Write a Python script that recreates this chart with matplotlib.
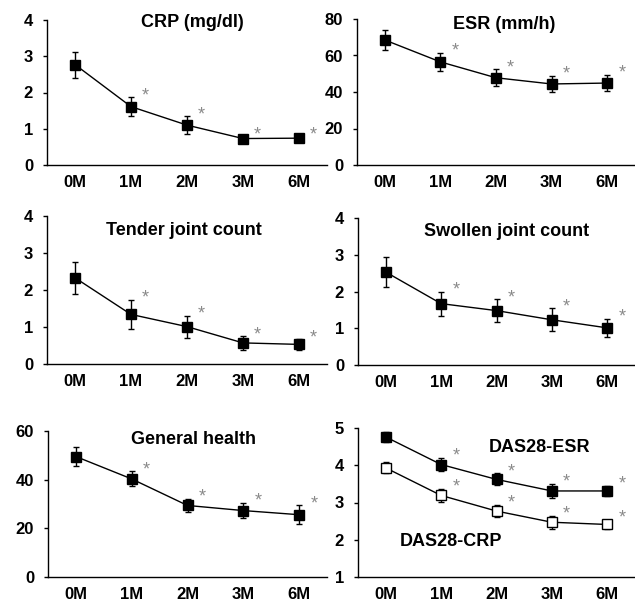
import matplotlib.pyplot as plt
import numpy as np

plt.rcParams['font.family'] = ['Liberation Sans', 'DejaVu Sans']

months = ['0M', '1M', '2M', '3M', '6M']

crp_mean = [2.77, 1.61, 1.10, 0.73, 0.74]
crp_err = [0.36, 0.26, 0.24, 0.05, 0.05]

esr_mean = [68.5, 56.5, 47.8, 44.4, 44.9]
esr_err = [5.7, 5.0, 4.7, 4.5, 4.5]

tender_mean = [2.33, 1.34, 1.01, 0.57, 0.53]
tender_err = [0.44, 0.39, 0.30, 0.18, 0.14]

swollen_mean = [2.53, 1.67, 1.48, 1.23, 1.01]
swollen_err = [0.40, 0.33, 0.31, 0.31, 0.25]

health_mean = [49.5, 40.3, 29.4, 27.3, 25.6]
health_err = [3.8, 3.1, 2.7, 3.2, 3.8]

das_esr_mean = [4.76, 4.02, 3.62, 3.31, 3.31]
das_esr_err = [0.14, 0.18, 0.16, 0.20, 0.14]

das_crp_mean = [3.93, 3.19, 2.77, 2.47, 2.41]
das_crp_err = [0.15, 0.18, 0.17, 0.18, 0.13]

# significance flags (all follow-up visits vs baseline)
signif = [False, True, True, True, True]

fig = plt.figure(figsize=(6.35, 6.01), dpi=100)

W, H = 635.0, 601.0


def make_ax(left_px, right_px, top_px, bottom_px):
    return fig.add_axes([left_px / W, 1 - bottom_px / H,
                         (right_px - left_px) / W, (bottom_px - top_px) / H])


def draw_series(ax, mean, err, filled=True):
    x = np.arange(len(mean))
    ax.errorbar(x, mean, yerr=err, fmt='s', color='black', ecolor='black',
                elinewidth=1.0, capsize=2.5, capthick=1.0,
                markersize=7, markerfacecolor='black' if filled else 'white',
                markeredgecolor='black', markeredgewidth=1.0,
                linestyle='-', linewidth=1.0, zorder=3)
    for xi, m, e, s in zip(x, mean, err, signif):
        if s:
            ax.annotate('*', (xi, m + e), xytext=(8, -5),
                        textcoords='offset points', ha='left', va='bottom',
                        fontsize=13, color='#8a8a8a')


def style(ax, ylim, yticks):
    ax.set_xlim(-0.5, 4.5)
    ax.set_ylim(*ylim)
    ax.set_yticks(yticks)
    ax.set_xticks(range(len(months)))
    ax.set_xticklabels(months)
    for sp in ['top', 'right']:
        ax.spines[sp].set_visible(False)
    for sp in ['left', 'bottom']:
        ax.spines[sp].set_linewidth(1.0)
    ax.tick_params(axis='x', length=0, pad=7, labelsize=12)
    ax.tick_params(axis='y', length=3, width=1.0, pad=7, labelsize=12)
    for lab in ax.get_xticklabels() + ax.get_yticklabels():
        lab.set_fontweight('bold')
    ax.patch.set_alpha(0)


def title(ax, text, x, y):
    ax.text(x, y, text, transform=ax.transAxes, ha='center', va='center',
            fontsize=13, fontweight='bold')


ax1 = make_ax(47, 327, 20, 165)
draw_series(ax1, crp_mean, crp_err)
style(ax1, (0, 4), [0, 1, 2, 3, 4])
title(ax1, 'CRP (mg/dl)', 0.52, 0.98)

ax2 = make_ax(357, 635, 19, 165)
draw_series(ax2, esr_mean, esr_err)
style(ax2, (0, 80), [0, 20, 40, 60, 80])
title(ax2, 'ESR (mm/h)', 0.53, 0.96)

ax3 = make_ax(47, 327, 216, 364)
draw_series(ax3, tender_mean, tender_err)
style(ax3, (0, 4), [0, 1, 2, 3, 4])
title(ax3, 'Tender joint count', 0.49, 0.90)

ax4 = make_ax(358, 635, 218, 365)
draw_series(ax4, swollen_mean, swollen_err)
style(ax4, (0, 4), [0, 1, 2, 3, 4])
title(ax4, 'Swollen joint count', 0.535, 0.91)

ax5 = make_ax(48, 327, 431, 577)
draw_series(ax5, health_mean, health_err)
style(ax5, (0, 60), [0, 20, 40, 60])
title(ax5, 'General health', 0.52, 0.94)

ax6 = make_ax(358, 635, 428, 577)
draw_series(ax6, das_esr_mean, das_esr_err, filled=True)
draw_series(ax6, das_crp_mean, das_crp_err, filled=False)
style(ax6, (1, 5), [1, 2, 3, 4, 5])
title(ax6, 'DAS28-ESR', 0.655, 0.866)
title(ax6, 'DAS28-CRP', 0.335, 0.236)

fig.savefig('out.png', dpi=100)
